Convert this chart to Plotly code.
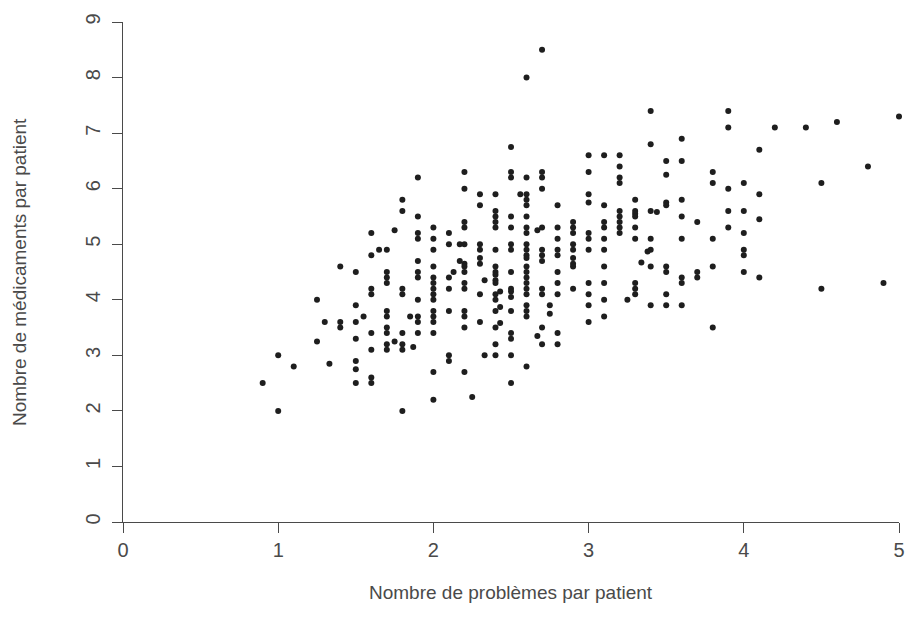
import plotly.graph_objects as go

# Number of problems per patient (one entry per column of points)
problemes_colonnes = [
    0.9, 1.0, 1.1, 1.25, 1.3, 1.33, 1.4, 1.5, 1.55, 1.6, 1.65, 1.7, 1.75, 1.8,
    1.85, 1.87, 1.9, 2.0, 2.1, 2.13, 2.17, 2.2, 2.25, 2.3, 2.33, 2.4, 2.43, 2.5,
    2.56, 2.6, 2.67, 2.7, 2.75, 2.8, 2.9, 3.0, 3.1, 3.2, 3.25, 3.3, 3.34, 3.38,
    3.4, 3.44, 3.5, 3.6, 3.7, 3.8, 3.9, 4.0, 4.1, 4.2, 4.4, 4.5, 4.6, 4.8, 4.9,
    5.0,
]

# Number of medications per patient, grouped by the column above
medicaments_colonnes = [
    [2.5],
    [3.0, 2.0],
    [2.8],
    [4.0, 3.25],
    [3.6],
    [2.85],
    [4.6, 3.6, 3.5],
    [4.5, 3.9, 3.6, 3.3, 2.9, 2.75, 2.5],
    [3.7],
    [5.2, 4.8, 4.2, 4.1, 3.4, 3.1, 2.6, 2.5],
    [4.9],
    [4.9, 4.5, 4.4, 4.3, 3.8, 3.7, 3.5, 3.4, 3.2, 3.1],
    [5.25, 3.25],
    [5.8, 5.6, 4.2, 4.1, 3.4, 3.2, 3.1, 2.0],
    [3.7],
    [3.15],
    [6.2, 5.5, 5.2, 5.1, 4.7, 4.5, 4.4, 4.0, 3.7, 3.6, 3.4],
    [5.3, 5.1, 4.9, 4.6, 4.4, 4.3, 4.2, 4.1, 4.0, 3.8, 3.7, 3.6, 3.4, 2.7, 2.2],
    [5.2, 5.0, 4.4, 4.2, 3.8, 3.0, 2.9],
    [4.5],
    [5.0, 4.7],
    [6.3, 6.0, 5.4, 5.3, 5.0, 4.65, 4.6, 4.5, 4.3, 4.2, 3.8, 3.7, 3.5, 2.7],
    [2.25],
    [5.9, 5.7, 5.0, 4.9, 4.75, 4.65, 4.1, 3.6],
    [4.35, 3.0],
    [5.9, 5.6, 5.5, 5.4, 5.3, 4.9, 4.6, 4.5, 4.45, 4.35, 4.3, 4.1, 4.0, 3.8, 3.5, 3.2, 3.0],
    [4.15, 3.87, 3.58],
    [6.75, 6.3, 6.2, 5.5, 5.3, 5.0, 4.9, 4.5, 4.2, 4.15, 4.05, 3.8, 3.4, 3.3, 3.0, 2.5],
    [5.9],
    [8.0, 6.2, 5.9, 5.8, 5.7, 5.5, 5.3, 5.2, 5.0, 4.9, 4.8, 4.75, 4.6, 4.5, 4.4, 4.3, 4.2, 4.1, 3.9, 3.8, 3.7, 2.8],
    [5.25, 3.35],
    [8.5, 6.3, 6.2, 6.0, 5.3, 4.9, 4.8, 4.7, 4.2, 4.1, 3.5, 3.2],
    [3.9, 3.75],
    [5.7, 5.3, 5.1, 4.9, 4.8, 4.5, 4.3, 4.1, 3.4, 3.2],
    [5.4, 5.3, 5.2, 5.0, 4.9, 4.75, 4.65, 4.6, 4.2],
    [6.6, 6.3, 5.9, 5.75, 5.2, 5.1, 4.9, 4.3, 4.1, 3.9, 3.6],
    [6.6, 5.7, 5.4, 5.3, 5.1, 4.9, 4.6, 4.3, 4.0, 3.7],
    [6.6, 6.4, 6.2, 6.1, 5.6, 5.5, 5.4, 5.3, 5.2],
    [4.0],
    [5.8, 5.6, 5.55, 5.5, 5.3, 5.1, 4.3, 4.2, 4.1],
    [4.67],
    [4.87],
    [7.4, 6.8, 5.6, 5.1, 4.9, 4.6, 3.9],
    [5.58],
    [6.5, 6.25, 5.75, 5.7, 4.6, 4.5, 4.1, 3.9],
    [6.9, 6.5, 5.8, 5.5, 5.1, 4.4, 4.3, 3.9],
    [5.4, 4.5, 4.4],
    [6.3, 6.1, 5.1, 4.6, 3.5],
    [7.4, 7.1, 6.0, 5.6, 5.3],
    [6.1, 5.6, 5.2, 4.9, 4.8, 4.5],
    [6.7, 5.9, 5.45, 4.4],
    [7.1],
    [7.1],
    [6.1, 4.2],
    [7.2],
    [6.4],
    [4.3],
    [7.3],
]

x_ticks = [0, 1, 2, 3, 4, 5]
y_ticks = [0, 1, 2, 3, 4, 5, 6, 7, 8, 9]

titre_x = "Nombre de problèmes par patient"
titre_y = "Nombre de médicaments par patient"

# Expand the grouped columns into one point per patient
problemes = []
medicaments = []
for xv, ys in zip(problemes_colonnes, medicaments_colonnes):
    for yv in ys:
        problemes.append(xv)
        medicaments.append(yv)

axis_color = "#4a4a4a"
text_color = "#4a4a4a"
font_family = "Liberation Sans, Arial, Helvetica, sans-serif"

fig = go.Figure()
fig.add_trace(
    go.Scatter(
        x=problemes,
        y=medicaments,
        mode="markers",
        marker=dict(size=6, color="#1e1e1e", line=dict(width=0)),
        cliponaxis=False,
        showlegend=False,
    )
)

common_axis = dict(
    showline=True,
    linecolor=axis_color,
    linewidth=1.4,
    ticks="outside",
    ticklen=10,
    tickwidth=1.4,
    tickcolor=axis_color,
    showgrid=False,
    zeroline=False,
    tickfont=dict(family=font_family, size=20, color=text_color),
    tickmode="array",
)

fig.update_xaxes(range=[0, 5], tickvals=x_ticks, ticktext=[str(v) for v in x_ticks], **common_axis)
fig.update_yaxes(range=[0, 9], tickvals=y_ticks, ticktext=[str(v) for v in y_ticks],
                 tickangle=-90, ticklabelstandoff=4, **common_axis)

fig.add_annotation(
    text=titre_x, xref="paper", yref="paper", x=0.5, y=-0.14,
    xanchor="center", yanchor="middle", showarrow=False,
    font=dict(family=font_family, size=19, color=text_color),
)
fig.add_annotation(
    text=titre_y, xref="paper", yref="paper", x=-0.134, y=0.5,
    xanchor="center", yanchor="middle", textangle=-90, showarrow=False,
    font=dict(family=font_family, size=19, color=text_color),
)

fig.update_layout(
    width=913,
    height=632,
    margin=dict(l=123, r=8, t=22, b=110),
    plot_bgcolor="white",
    paper_bgcolor="white",
)

fig.write_html("out.html")
